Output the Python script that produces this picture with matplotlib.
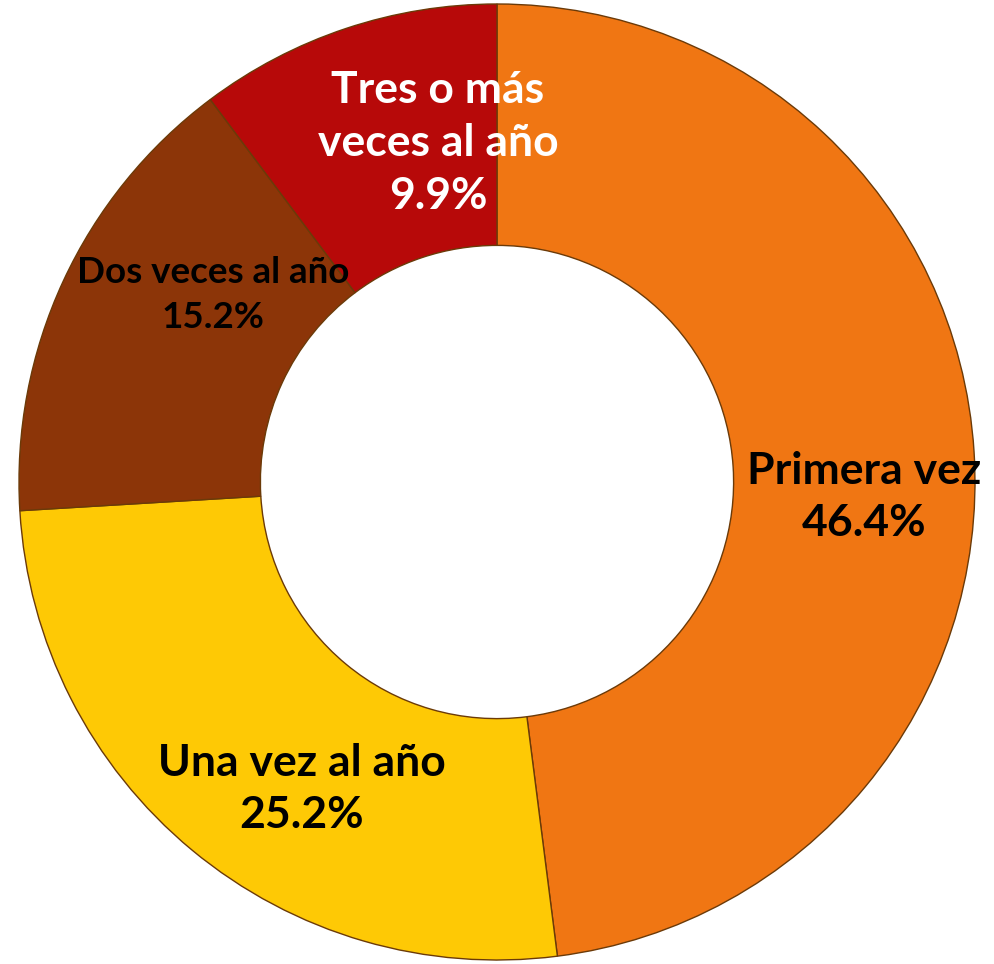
import matplotlib
matplotlib.use("Agg")
import matplotlib.pyplot as plt

categories = ["Primera vez", "Una vez al año", "Dos veces al año", "Tres o más\nveces al año"]
values = [46.4, 25.2, 15.2, 9.9]
colors = ["#F07613", "#FEC905", "#8C3508", "#B70909"]
text_colors = ["black", "black", "black", "white"]

W, H = 994, 964
fig = plt.figure(figsize=(W / 100, H / 100), dpi=100)
ax = fig.add_axes([0, 0, 1, 1])

cx, cy, R = 497, 482, 478
wedges, _ = ax.pie(values, colors=colors, startangle=90, counterclock=False,
                   center=(cx, cy), radius=R, frame=True,
                   wedgeprops=dict(width=R * 0.505, edgecolor="#6b3a08", linewidth=1.0))
ax.set_xlim(0, W)
ax.set_ylim(0, H)
ax.set_aspect("auto")
ax.axis("off")

# label layout (pixel positions, y from top)
label_pos = [(864, 497), (302, 789), (213, 295), (438, 143)]
label_size = [32, 32, 26.5, 32]
label_ls = [1.38, 1.38, 1.46, 1.40]
for cat, v, (px, py), fs, ls, tc in zip(categories, values, label_pos, label_size, label_ls, text_colors):
    ax.text(px, H - py, f"{cat}\n{v:.1f}%", ha="center", va="center",
            fontsize=fs, fontweight="bold", color=tc, family=["Lato", "DejaVu Sans"],
            linespacing=ls)

fig.savefig("out.png", dpi=100)
